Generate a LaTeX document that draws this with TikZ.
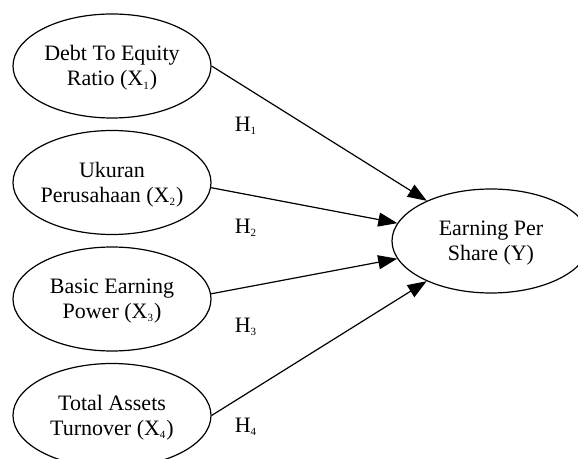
\documentclass[tikz,border=0pt]{standalone}
\usepackage{fontspec}
\setmainfont{Liberation Serif}
\usetikzlibrary{shapes.geometric,arrows.meta}
\def\xl{112}
\def\hx{246}
\newcommand{\sub}[1]{\textsubscript{\fontsize{5.5}{6}\selectfont #1}}

\begin{document}
\begin{tikzpicture}[
  x=0.5pt, y=-0.5pt,
  font=\fontsize{11}{12.5}\selectfont,
  >={Triangle[length=9.5pt,width=7pt]},
  var/.style={ellipse, draw, line width=0.6pt, minimum width=99pt, minimum height=52pt, inner sep=0pt},
  vtext/.style={align=center, inner sep=0pt},
  hyp/.style={->, line width=0.6pt},
  hlab/.style={inner sep=0pt},
]
\useasboundingbox (0,0) rectangle (578,459);

% =====================================================================
% INDEPENDENT VARIABLES
% =====================================================================
\node[var] (x1) at (\xl,66){};
\node[vtext] (x1t) at (\xl,68){Debt To Equity\\Ratio (X\sub{1})};
\node[var] (x2) at (\xl,182.5){};
\node[vtext] (x2t) at (\xl,184.5){Ukuran\\Perusahaan (X\sub{2})};
\node[var] (x3) at (\xl,299){};
\node[vtext] (x3t) at (\xl,301){Basic Earning\\Power (X\sub{3})};
\node[var] (x4) at (\xl,415.5){};
\node[vtext] (x4t) at (\xl,417.5){Total Assets\\Turnover (X\sub{4})};

% =====================================================================
% DEPENDENT VARIABLE
% =====================================================================
\node[var] (y) at (491,241){};
\node[vtext] (yt) at (491,243){Earning Per\\Share (Y)};

% hypotheses
\draw[hyp] (x1.east) -- (y);
\draw[hyp] (x2.-3) -- (y);
\draw[hyp] (x3.3) -- (y);
\draw[hyp] (x4.east) -- (y);

\node[hlab] (h1) at (\hx,126){H\sub{1}};
\node[hlab] (h2) at (\hx,228){H\sub{2}};
\node[hlab] (h3) at (\hx,327){H\sub{3}};
\node[hlab] (h4) at (\hx,427){H\sub{4}};

\end{tikzpicture}
\end{document}
